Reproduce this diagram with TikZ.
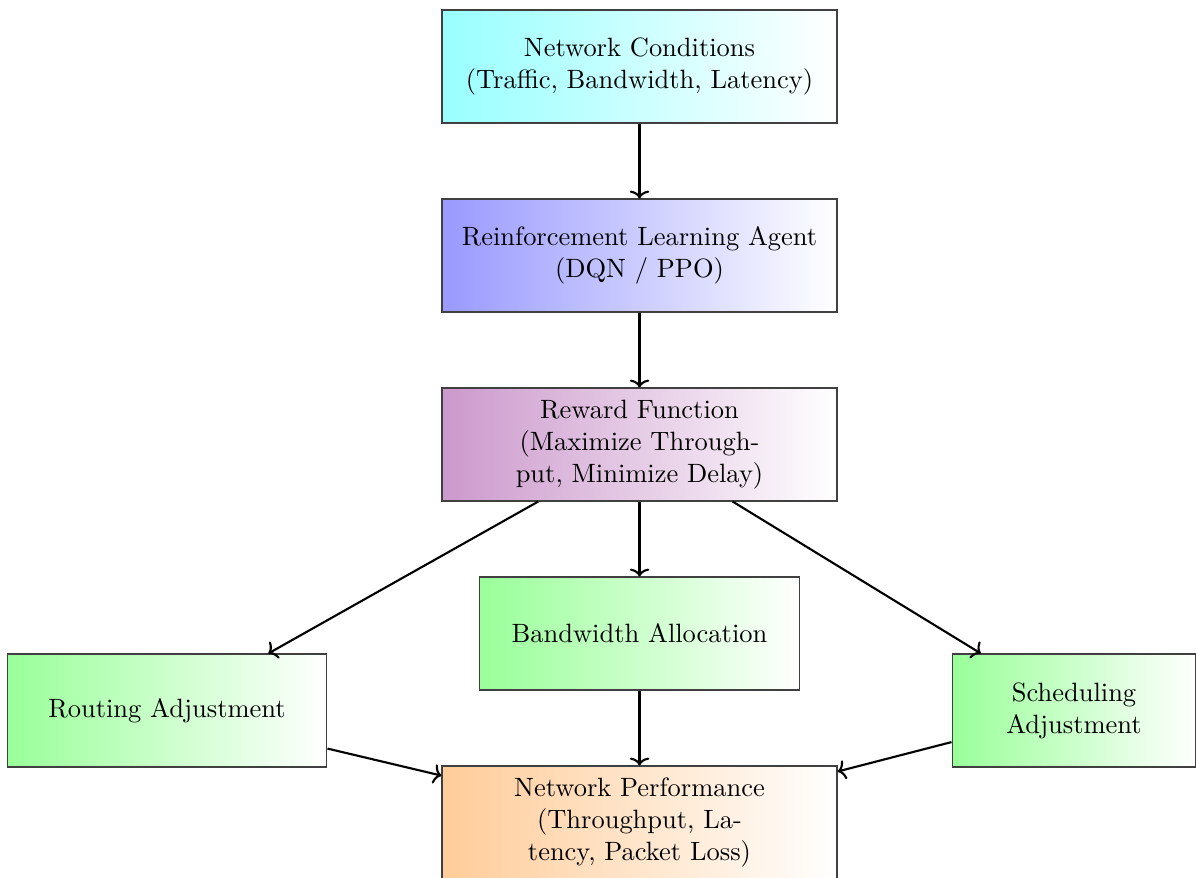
\documentclass[tikz,border=0pt]{standalone}
\usetikzlibrary{arrows.meta}
\begin{document}
\begin{tikzpicture}[x=0.3777pt,y=-0.3777pt,
  box/.style={draw=black!75, line width=0.4pt, rectangle, minimum height=42.68pt,
    align=center, inner sep=0pt, right color=white},
  wide/.style={box, minimum width=149.2pt},
  mid/.style={box, minimum width=120.8pt},
  narrow/.style={box, minimum width=92.1pt},
  link/.style={-{To[length=3pt,width=7.4pt]}, thick}]
\useasboundingbox (0,0) rectangle (1196,877);

% pipeline stages
\node[wide, left color=cyan!40] (cond) at (639.5,66.5)
  {Network Conditions\\(Traffic, Bandwidth, Latency)};
\node[wide, left color=blue!40] (agent) at (639.5,255.5)
  {Reinforcement Learning Agent\\(DQN / PPO)};
\node[wide, left color=violet!40] (reward) at (639.5,444.5)
  {Reward Function\\(Maximize Through-\\put, Minimize Delay)};

% actions
\node[mid, left color=green!40] (band) at (639.5,633.5) {Bandwidth Allocation};
\node[mid, left color=green!40] (route) at (167,710.5) {Routing Adjustment};
\node[narrow, left color=green!40] (sched) at (1074,710.5) {Scheduling\\Adjustment};

% outcome
\node[wide, left color=orange!40] (perf) at (639.5,822.5)
  {Network Performance\\(Throughput, La-\\tency, Packet Loss)};

% connectors
\draw[link] (cond) -- (agent);
\draw[link] (agent) -- (reward);
\draw[link] (reward) -- (band);
\draw[link] (reward) -- (route);
\draw[link] (reward) -- (sched);
\draw[link] (band) -- (perf);
\draw[link] (route) -- (perf);
\draw[link] (sched) -- (perf);
\end{tikzpicture}
\end{document}
